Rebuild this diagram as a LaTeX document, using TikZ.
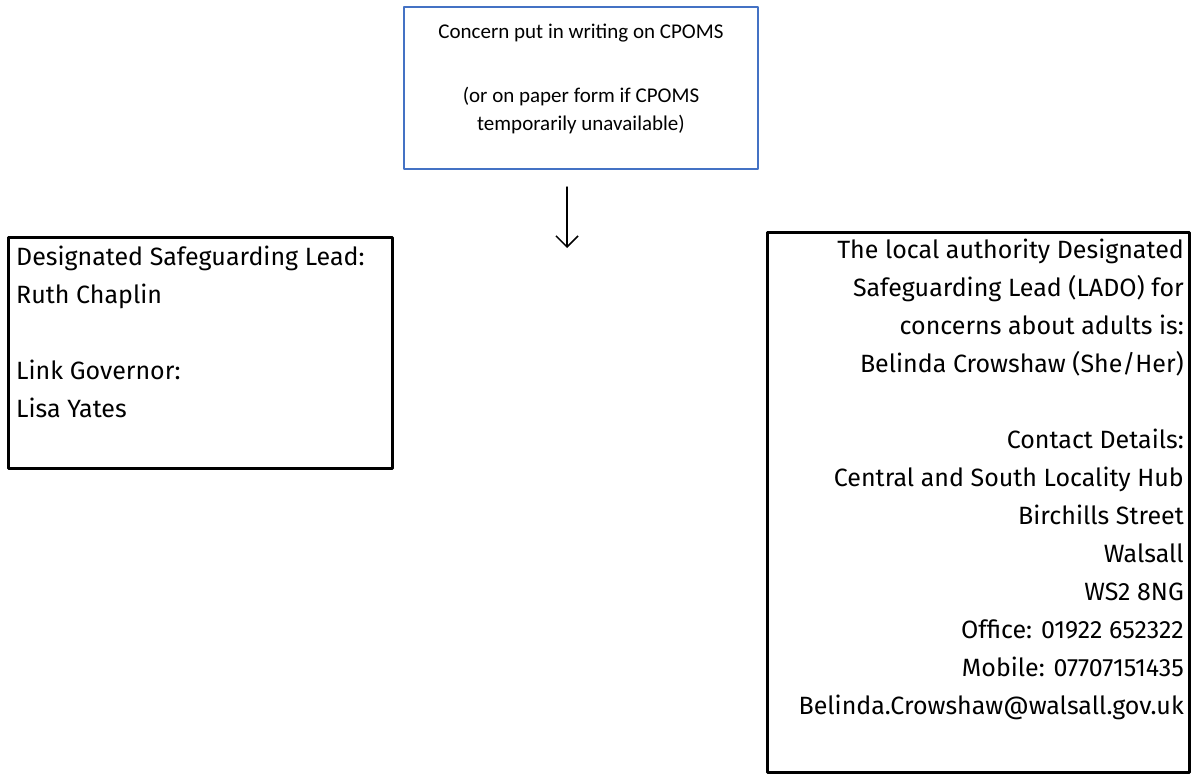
\documentclass[tikz,border=0pt]{standalone}
\usepackage{fontspec}
\newfontfamily\firafont{Fira Sans}
\newfontfamily\carlitofont{Carlito}
\usetikzlibrary{arrows.meta,positioning}
\definecolor{boxblue}{RGB}{68,114,196}
\begin{document}
\begin{tikzpicture}[x=1pt,y=-1pt,line
	join=round,line
	cap=round,>={Straight Barb[length=11pt,width=22pt]},
	box/.style={inner sep=0pt},
	bluebox/.style={box,draw=boxblue,line width=1.3pt},
	blackbox/.style={box,draw=black,line width=3pt},
	smalltext/.style={font=\carlitofont\fontsize{21}{28}\selectfont,inner sep=0pt},
	bigtext/.style={font=\firafont\fontsize{25}{38}\selectfont,inner sep=0pt}]
	\useasboundingbox (0,0) rectangle (1192,774);
	% the three boxes
	\node[bluebox,minimum width=354pt,minimum height=162pt] (concern) at (581,88) {};
	\node[blackbox,minimum width=384pt,minimum height=231pt] (dsl) at (200,352.5) {};
	\node[blackbox,minimum width=422pt,minimum height=540pt] (lado) at (978,502) {};
	% their texts
	\node[smalltext,align=center,anchor=north] (concerntext) at (581,24)
	{Concern put in writing on CPOMS\\[36pt]
		(or on paper form if CPOMS\\temporarily unavailable)};
	\node[bigtext,align=left,anchor=north west] (dsltext) at (16,246)
	{Designated Safeguarding Lead:\\Ruth Chaplin\\[38pt]
		Link Governor:\\Lisa Yates};
	\node[bigtext,align=right,anchor=north east] (ladotext) at (1184,239)
	{The local authority Designated\\Safeguarding Lead (LADO) for\\
		concerns about adults is:\\Belinda Crowshaw (She/Her)\\[38pt]
		Contact Details:\\Central and South Locality Hub\\Birchills Street\\
		Walsall\\WS2 8NG\\Office: 01922 652322\\Mobile: 07707151435\\
		Belinda.Crowshaw@walsall.gov.uk};
	% arrow under the top box
	\path (567,187) coordinate (arrowtop)
	(567,248) coordinate (arrowend);
	\draw[->,line width=1.5pt] (arrowtop)--(arrowend);
\end{tikzpicture}
\end{document}
